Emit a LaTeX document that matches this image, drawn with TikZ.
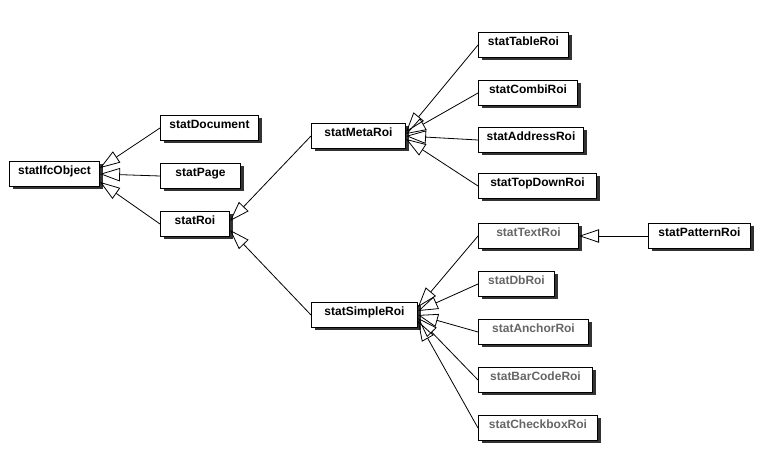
\documentclass[tikz,border=0pt]{standalone}
\usepackage{fontspec}
\setsansfont{Liberation Sans}
\usetikzlibrary{arrows.meta, shadows, calc}

\begin{document}
\begin{tikzpicture}[x=0.75pt, y=-0.75pt,
  cls/.style={draw, fill=white, line width=0.75pt, anchor=north west,
    font=\sffamily\bfseries\fontsize{9pt}{10pt}\selectfont,
    inner xsep=0pt, inner ysep=2.5pt, text height=7pt, text depth=6.75pt,
    minimum width=#1*0.75pt,
    drop shadow={shadow xshift=2.25pt, shadow yshift=-2.25pt,
      fill=black!80, opacity=1}},
  grey/.style={text=black!60},
  isa/.style={-{Triangle[open, length=15pt, width=10pt]}, line width=0.6pt}]

  \useasboundingbox (0,0) rectangle (769,449);

  % Basisklassen
  \node[cls=90]  (ifcobj)   at (9,161)   {statIfcObject};
  \node[cls=98]  (document) at (160,115) {statDocument};
  \node[cls=80]  (page)     at (160,163) {statPage};
  \node[cls=69]  (roi)      at (160,211) {statRoi};

  % Roi-Zweige
  \node[cls=94]  (metaroi)   at (311,123) {statMetaRoi};
  \node[cls=106] (simpleroi) at (311,302) {statSimpleRoi};

  % Meta-Rois
  \node[cls=90]  (tableroi)   at (478,32)  {statTableRoi};
  \node[cls=99]  (combiroi)   at (478,80)  {statCombiRoi};
  \node[cls=105] (addressroi) at (478,127) {statAddressRoi};
  \node[cls=118] (topdownroi) at (478,173) {statTopDownRoi};

  % einfache Rois
  \node[cls=100, grey] (textroi)     at (478,223) {statTextRoi};
  \node[cls=76, grey]  (dbroi)       at (478,271) {statDbRoi};
  \node[cls=110, grey] (anchorroi)   at (478,319) {statAnchorRoi};
  \node[cls=114, grey] (barcoderoi)  at (478,367) {statBarCodeRoi};
  \node[cls=119, grey] (checkboxroi) at (478,415) {statCheckboxRoi};
  \node[cls=102]       (patternroi)  at (648,223) {statPatternRoi};

  % Vererbung
  \foreach \c/\d in {document/-6, page/0, roi/8}
    \draw[isa] (\c.west) -- ($(ifcobj.east)+(0,\d)$);
  \foreach \c/\d in {metaroi/-3, simpleroi/6}
    \draw[isa] (\c.west) -- ($(roi.east)+(0,\d)$);
  \foreach \c/\d in {tableroi/-4, combiroi/-2, addressroi/0, topdownroi/3}
    \draw[isa] (\c.west) -- ($(metaroi.east)+(0,\d)$);
  \foreach \c/\d in {textroi/-8, dbroi/-4, anchorroi/0, barcoderoi/3, checkboxroi/6}
    \draw[isa] (\c.west) -- ($(simpleroi.east)+(0,\d)$);
  \draw[isa] (patternroi.west) -- (textroi.east);
\end{tikzpicture}
\end{document}
